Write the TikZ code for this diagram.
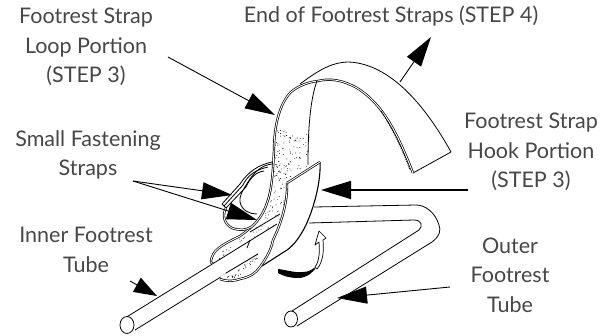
\documentclass[tikz,border=0pt]{standalone}
\usepackage{fontspec}
\setmainfont{Lato}
\usetikzlibrary{arrows.meta}
\tikzset{
 lbl/.style={align=center,font=\fontsize{21.5}{29.3}\selectfont,text=black!72,inner sep=0pt},
 ptr/.style={line width=.9pt,-{Triangle[length=30pt,width=17pt]}},
 ptrb/.style={line width=1.8pt,-{Triangle[length=30pt,width=18pt]}},
 ptrs/.style={line width=.9pt,-{Triangle[length=23pt,width=16pt]}},
 edge/.style={line width=.8pt,black,line join=round},
 dbl/.style={line width=.7pt,double=white,double distance=.9pt,line join=round},
}
\begin{document}
\begin{tikzpicture}[x=1pt,y=-1pt]
\useasboundingbox (0,0) rectangle (608,335);
\fill[white] (0,0) rectangle (608,335);
% labels
\node[lbl] (loop) at (86,47) {Footrest Strap\\Loop Portion\\(STEP 3)};
\node[lbl] (endl) at (391,16) {End of Footrest Straps (STEP 4)};
\node[lbl] (small) at (88,155) {Small Fastening\\Straps};
\node[lbl] (inner) at (86,250) {Inner Footrest\\Tube};
\node[lbl] (hook) at (531,152) {Footrest Strap\\Hook Portion\\(STEP 3)};
\node[lbl] (outer) at (510,275) {Outer\\Footrest\\Tube};
% outer tube
\fill[white] (297,326) -- (432,242) .. controls (440,236) and (441,230) .. (439,225) .. controls (435,212) and (425,205) .. (419,205) -- (314,207) -- (309,223) -- (414,220) .. controls (422,220) and (423,226) .. (419,230) -- (292,311) -- cycle;
\draw[edge] (297,326) -- (432,242) .. controls (440,236) and (441,230) .. (439,225) .. controls (435,212) and (425,205) .. (416,205) -- (314,207);
\draw[edge] (309,223) -- (414,220) .. controls (422,220) and (423,226) .. (419,230) -- (292,311);
\draw[edge,fill=white] (291,319) ellipse[x radius=6.5,y radius=8];
% main strap
\fill[white] (211,262) .. controls (214,250) and (222,243) .. (238,236) .. controls (252,229) and (262,220) .. (267,205) .. controls (272,190) and (272,165) .. (273,145) .. controls (273,120) and (280,100) .. (300,85) .. controls (315,73) and (330,62) .. (349,62) .. controls (390,64) and (425,105) .. (451,152) -- (413,173) .. controls (400,140) and (385,105) .. (357,88) .. controls (343,80) and (330,78) .. (318,83) .. controls (310,100) and (308,130) .. (308,165) -- (287,185) -- (273,227) -- cycle;
\begin{scope}
\clip (276,130) -- (310,130) -- (309,165) -- (288,180) -- (283,215) -- (270,232) -- (214,262) .. controls (218,250) and (230,243) .. (245,236) .. controls (262,226) and (272,200) .. (274,170) -- cycle;
\pgfmathsetseed{7}
\foreach \i in {1,...,110}{\fill (274+36*rnd,130+50*rnd) circle[radius=.45];}
\foreach \i in {1,...,420}{\fill (212+76*rnd,165+100*rnd) circle[radius=.45];}
\end{scope}
\draw[edge] (300,84) .. controls (315,73) and (330,62) .. (349,62) .. controls (390,64) and (425,105) .. (451,152) -- (413,173);
\draw[dbl] (413,173) .. controls (400,140) and (385,105) .. (357,88) .. controls (343,80) and (330,78) .. (318,81) .. controls (308,82) and (298,86) .. (291,92) .. controls (280,103) and (274,125) .. (274,150) .. controls (273,170) and (272,190) .. (267,203) .. controls (262,218) and (254,226) .. (240,236) .. controls (226,243) and (215,248) .. (212,257) .. controls (210,262) and (211,264) .. (213,264);
\draw[edge] (317,81) .. controls (310,100) and (308,130) .. (308,165);
\draw[line width=1pt,densely dotted] (381,111) .. controls (392,128) and (403,150) .. (410,170);
% small fastening straps
\draw[edge] (272,164) .. controls (262,165) and (254,172) .. (248,182) .. controls (243,190) and (239,196) .. (240,202) .. controls (242,211) and (250,214) .. (257,214);
\draw[edge] (272,162) .. controls (258,165) and (248,172) .. (240,184) -- (222,204);
\draw[edge] (268,167) .. controls (255,170) and (248,175) .. (243,185) -- (224,206);
\draw[edge] (264,171) .. controls (256,172) and (250,178) .. (246,187) -- (226,208);
\draw[edge] (222,204) -- (226,208);
\draw[dbl] (226,208) .. controls (222,215) and (224,224) .. (232,228) .. controls (240,231) and (246,230) .. (251,227);
% inner tube
\fill[white] (125,318) -- (277,224) -- (262,252) -- (220,277) -- (135,330) -- cycle;
\draw[edge] (125,318) -- (277,224);
\draw[edge] (135,330) -- (258,254);
\draw[edge] (250,232) -- (280,214);
\draw[edge] (247,248) -- (250,240);
\draw[edge,fill=white] (127,325) ellipse[x radius=7,y radius=8.5];
% lower strap below the tube
\fill[white] (220,277) -- (258,254) -- (262,266) -- (240,280) -- (228,281) -- cycle;
\begin{scope}
\clip (226,276) -- (258,256) -- (258,263) -- (240,277) -- (228,279) -- cycle;
\pgfmathsetseed{12}
\foreach \i in {1,...,110}{\fill (224+36*rnd,255+26*rnd) circle[radius=.45];}
\end{scope}
\draw[edge] (226,273) -- (258,254);
\draw[dbl] (220,279) .. controls (228,282) and (234,281) .. (240,279);
% hook portion
\fill[white] (287,183) -- (320,162) .. controls (321,180) and (315,205) .. (306,225) .. controls (300,237) and (294,245) .. (287,250) -- (262,266) -- (240,279) .. controls (250,277) and (256,273) .. (260,267) .. controls (267,257) and (271,250) .. (273,240) .. controls (279,228) and (288,205) .. (287,183) -- cycle;
\draw[line width=1.1pt,line join=round] (320,162) .. controls (321,180) and (315,205) .. (306,225) .. controls (300,237) and (294,245) .. (287,250) -- (262,266);
\draw[dbl] (287,183) -- (320,162);
\draw[dbl] (287,183) .. controls (288,205) and (279,228) .. (273,240) .. controls (271,250) and (267,257) .. (260,267) .. controls (256,273) and (250,277) .. (240,279);
% curved arrow
\fill (278,269) .. controls (287,270) and (295,273) .. (303,272) .. controls (309,272) and (313,269) .. (317,266) .. controls (313,273) and (306,278) .. (298,278) .. controls (290,278) and (283,276) .. (278,273) -- cycle;
\draw[line width=.7pt,fill=white,line join=round] (315,267) .. controls (319,262) and (320,252) .. (319,242) -- (315,245) -- (319,231) -- (326,238) -- (323,240) .. controls (324,252) and (323,262) .. (317,269) -- cycle;
% connectors
\coordinate (t1s) at (168,57); \coordinate (t1) at (275,115);
\coordinate (t2s) at (133,181); \coordinate (t2) at (232,195); \coordinate (t3) at (257,220);
\coordinate (t4s) at (400,82); \coordinate (t4) at (431,37);
\coordinate (t5s) at (468,190); \coordinate (t5) at (321,190);
\coordinate (t6s) at (130,281); \coordinate (t6) at (157,296);
\coordinate (t7s) at (450,287); \coordinate (t7) at (337,298);
\draw[ptr] (t1s) -- (t1);
\draw[ptr] (t2s) -- (t2);
\draw[ptr] (t2s) -- (t3);
\draw[ptr] (t4s) -- (t4);
\draw[ptrb] (t5s) -- (t5);
\draw[ptrs] (t6s) -- (t6);
\draw[ptr] (t7s) -- (t7);
\end{tikzpicture}
\end{document}
